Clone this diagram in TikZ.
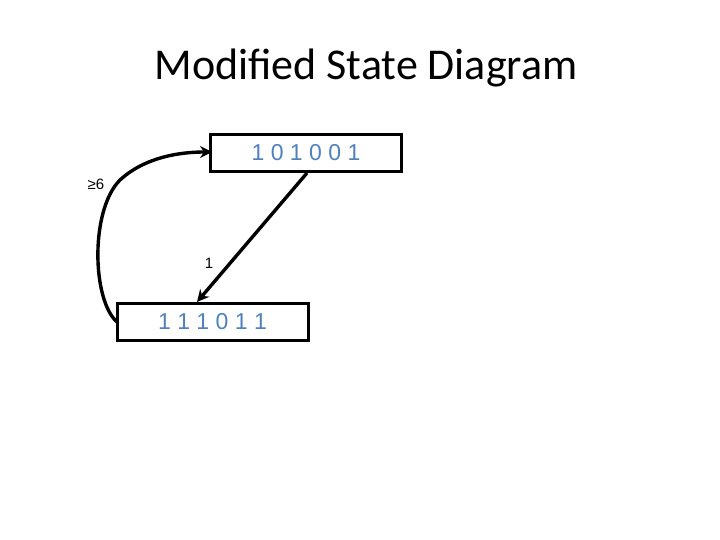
\documentclass[tikz,border=0pt]{standalone}
\usepackage{fontspec}
\setmainfont{Carlito}
\newfontfamily\digitfont{Liberation Sans}
\usetikzlibrary{arrows.meta}
\definecolor{stblue}{RGB}{79,129,189}
\begin{document}
\begin{tikzpicture}[x=1pt,y=1pt,
  statebox/.style={draw=black,line width=3pt,minimum width=191pt,minimum height=37pt,inner sep=0pt,text=stblue,font=\digitfont\fontsize{23}{26}\selectfont},
  conn/.style={line width=3.4pt,-{Stealth[length=12pt,width=12pt,inset=4pt]}},
  lbl/.style={font=\digitfont\fontsize{15}{18}\selectfont}]
\useasboundingbox (0,0) rectangle (720,540);
\node[font=\fontsize{44}{52}\selectfont] (title) at (366,472) {Modified State Diagram};
\node[statebox] (s1) at (306,387) {1 0 1 0 0 1};
\node[statebox] (s2) at (212.5,218) {1 1 1 0 1 1};
\coordinate (a1s) at (307,367);
\coordinate (a1e) at (197,238);
\draw[conn] (a1s) -- (a1e);
\node[lbl] (l1) at (209,277) {1};
\coordinate (cs) at (117,218);
\coordinate (ce) at (212,388);
\draw[conn] (cs) .. controls (92,240) and (90,330) .. (120,360) .. controls (145,383) and (180,388) .. (ce);
\node[lbl] (l6) at (96,356) {≥6};
\end{tikzpicture}
\end{document}
